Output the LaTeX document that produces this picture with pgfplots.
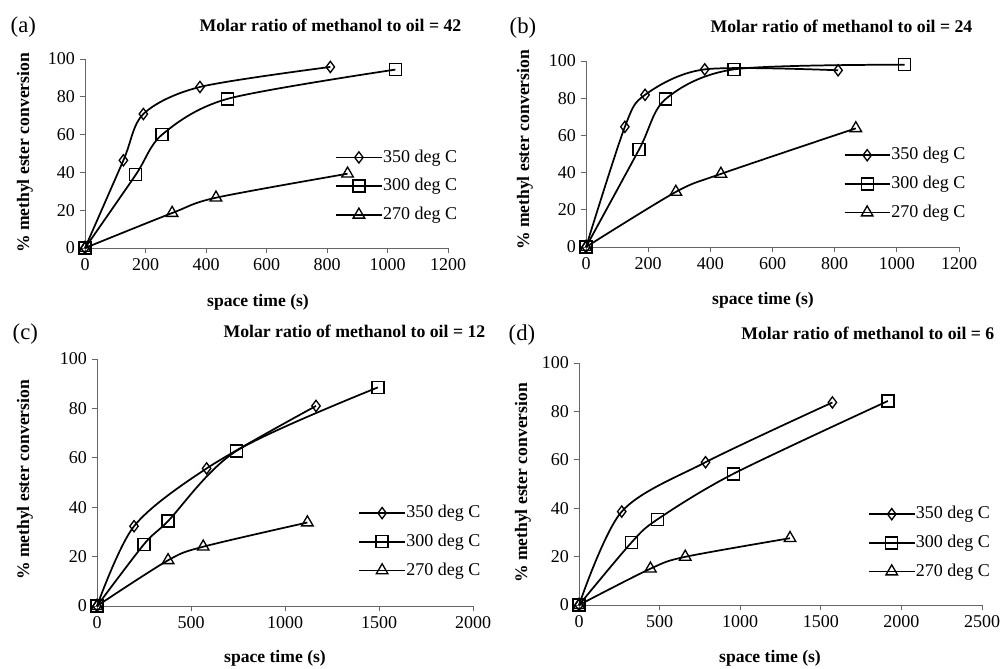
\documentclass[border=0pt]{standalone}
\usepackage{fontspec}
\setmainfont{Liberation Serif}
\usepackage{pgfplots}
\pgfplotsset{compat=1.18}

\def\px{0.75pt}

\pgfplotsset{
  panel/.style={
    scale only axis,
    clip=false,
    axis lines=left,
    axis line style={-, black!60, line width=0.7pt},
    tick align=outside,
    tick style={black!60, line width=0.7pt},
    major tick length=4pt,
    ymin=0, ymax=100, ytick={0,20,...,100},
    xmin=0,
    tick label style={font=\fontsize{13.5}{15}\selectfont},
    /pgf/number format/assume math mode=true,
    /pgf/number format/1000 sep={},
    every axis plot/.append style={black, line width=1.3pt, smooth,
      mark options={solid, fill=white, line width=1pt}},
    legend cell align=left,
    legend style={draw=none, fill=none, inner sep=0pt,
      font=\fontsize{13.5}{15}\selectfont,
      nodes={inner sep=0.5pt, text height=10pt, text depth=3pt},
      row sep=7.5pt},
    legend image code/.code={\draw[mark repeat=2,mark phase=2,#1]
      plot coordinates {(0pt,0pt) (17pt,0pt) (34pt,0pt)};},
  },
  c350/.style={mark=diamond, mark size=4.2pt},
  c300/.style={mark=square, mark size=4.5pt},
  c270/.style={mark=triangle, mark size=5pt},
}

\newcommand\paneltitle[3]{%
  \node[anchor=east, font=\bfseries\fontsize{13.3}{15}\selectfont] at (#1*\px, {(668-#2)*\px}) {#3};}
\newcommand\panelletter[3]{%
  \node[anchor=west, font=\fontsize{17}{19}\selectfont] at (#1*\px, {(668-#2)*\px}) {#3};}
\newcommand\ylab[2]{%
  \node[rotate=90, font=\bfseries\fontsize{13.2}{15}\selectfont] at (#1*\px, {(668-#2)*\px}) {\% methyl ester conversion};}
\newcommand\xlab[2]{%
  \node[font=\bfseries\fontsize{13.2}{15}\selectfont] at (#1*\px, {(668-#2)*\px}) {space time (s)};}

\begin{document}
\begin{tikzpicture}
\useasboundingbox (0,0) rectangle (1003*\px, 668*\px);

% (a) molar ratio 42
\begin{axis}[panel, at={(85*\px, {(668-248)*\px})}, anchor=south west,
  width=363*\px, height=189*\px, xmax=1200, xtick={0,200,...,1200},
  legend style={at={(0.689,0.53)}, anchor=north west}]
\addplot[c350] coordinates {(0,0) (127,46.4) (193,70.9) (380,85.2) (811,95.8)};
\addplot[c300] coordinates {(0,0) (168,38.8) (255,60) (471,78.9) (1026,94.4)};
\addplot[c270] coordinates {(0,0) (288,18.5) (433,26.6) (868,39.3)};
\legend{350 deg C, 300 deg C, 270 deg C}
\end{axis}

% (b) molar ratio 24
\begin{axis}[panel, at={(586*\px, {(668-247)*\px})}, anchor=south west,
  width=373*\px, height=186*\px, xmax=1200, xtick={0,200,...,1200},
  legend style={at={(0.69,0.545)}, anchor=north west}]
\addplot[c350] coordinates {(0,0) (125,64.6) (190,81.8) (382,95.5) (811,95.0)};
\addplot[c300] coordinates {(0,0) (171,52.5) (256,79.5) (476,95.5) (1025,98)};
\addplot[c270] coordinates {(0,0) (289,29.6) (434,39.3) (868,63.8)};
\legend{350 deg C, 300 deg C, 270 deg C}
\end{axis}

% (c) molar ratio 12
\begin{axis}[panel, at={(97*\px, {(668-606)*\px})}, anchor=south west,
  width=376*\px, height=247*\px, xmax=2000, xtick={0,500,...,2000},
  legend style={at={(0.695,0.415)}, anchor=north west}]
\addplot[c350] coordinates {(0,0) (197,32.3) (583,55.7) (1165,81.0)};
\addplot[c300] coordinates {(0,0) (250,25.0) (378,34.4) (742,62.8) (1494,88.5)};
\addplot[c270] coordinates {(0,0) (378,18.5) (565,24.0) (1119,33.8)};
\legend{350 deg C, 300 deg C, 270 deg C}
\end{axis}

% (d) molar ratio 6
\begin{axis}[panel, at={(579*\px, {(668-605)*\px})}, anchor=south west,
  width=403*\px, height=242*\px, xmax=2500, xtick={0,500,...,2500},
  legend style={at={(0.717,0.415)}, anchor=north west}]
\addplot[c350] coordinates {(0,0) (265,38.6) (785,59.0) (1572,83.7)};
\addplot[c300] coordinates {(0,0) (325,25.8) (487,35.4) (957,54.2) (1916,84.3)};
\addplot[c270] coordinates {(0,0) (443,15.0) (659,19.9) (1309,27.6)};
\legend{350 deg C, 300 deg C, 270 deg C}
\end{axis}

\panelletter{6}{27}{(a)}
\panelletter{505}{28}{(b)}
\panelletter{8}{334}{(c)}
\panelletter{504}{335}{(d)}
\paneltitle{466}{25}{Molar ratio of methanol to oil = 42}
\paneltitle{977}{26}{Molar ratio of methanol to oil = 24}
\paneltitle{490}{331}{Molar ratio of methanol to oil = 12}
\paneltitle{999}{333}{Molar ratio of methanol to oil = 6}
\ylab{25}{153}
\ylab{525}{150}
\ylab{25}{480}
\ylab{523}{483}
\xlab{258}{302}
\xlab{763}{300}
\xlab{275}{658}
\xlab{770}{658}
\end{tikzpicture}
\end{document}
